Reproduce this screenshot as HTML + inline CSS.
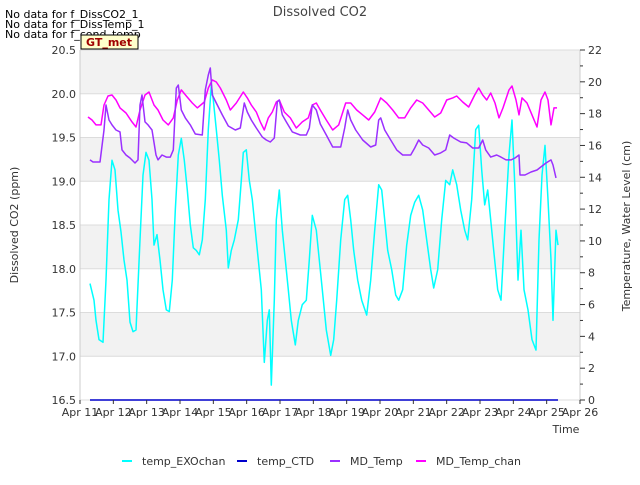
<!DOCTYPE html>
<html><head><meta charset="utf-8"><style>
body{margin:0;background:#fff;font-family:"Liberation Sans","DejaVu Sans",sans-serif;}
svg text{font-family:"DejaVu Sans","Liberation Sans",sans-serif;}
</style></head><body>
<svg id="chart" width="640" height="480" viewBox="0 0 640 480" xmlns="http://www.w3.org/2000/svg">
<rect width="640" height="480" fill="#fff"/>
<g id="bands"></g>
<g id="grid"></g>
<g id="series"></g>
<g id="axes"></g>
<text x="320" y="16" text-anchor="middle" font-size="13" fill="#444">Dissolved CO2</text>
<text x="5" y="18" font-size="11">No data for f_DissCO2_1</text>
<text x="5" y="28" font-size="11">No data for f_DissTemp_1</text>
<text x="5" y="38" font-size="11">No data for f_cond_temp</text>
<rect x="81" y="35" width="57" height="14" fill="#ffffcc" stroke="#000" stroke-width="1"/>
<text x="109" y="46" text-anchor="middle" font-size="11" font-weight="bold" fill="#a00000">GT_met</text>
<text transform="translate(18,225) rotate(-90)" text-anchor="middle" font-size="11" fill="#333">Dissolved CO2 (ppm)</text>
<text transform="translate(630,226) rotate(-90)" text-anchor="middle" font-size="11" fill="#333">Temperature, Water Level (cm)</text>
<text x="566" y="433" text-anchor="middle" font-size="11" fill="#333">Time</text>
<g id="legend"></g>
</svg>
<script>
const xTickLabels=["Apr 11","Apr 12","Apr 13","Apr 14","Apr 15","Apr 16","Apr 17","Apr 18","Apr 19","Apr 20","Apr 21","Apr 22","Apr 23","Apr 24","Apr 25","Apr 26"];
const leftTicks=[16.5,17.0,17.5,18.0,18.5,19.0,19.5,20.0,20.5];
const rightTicks=[0,2,4,6,8,10,12,14,16,18,20,22];
const exoT=[0.30,0.42,0.48,0.57,0.69,0.78,0.87,0.96,1.05,1.14,1.23,1.32,1.41,1.50,1.59,1.68,1.80,1.89,1.98,2.07,2.16,2.22,2.31,2.40,2.49,2.59,2.68,2.77,2.86,2.95,3.04,3.13,3.22,3.31,3.40,3.49,3.58,3.67,3.76,3.85,3.94,4.00,4.09,4.18,4.27,4.39,4.45,4.54,4.63,4.75,4.84,4.90,4.99,5.08,5.17,5.26,5.35,5.44,5.53,5.62,5.68,5.74,5.83,5.89,5.98,6.07,6.16,6.25,6.34,6.46,6.55,6.67,6.79,6.88,6.97,7.09,7.18,7.27,7.39,7.52,7.61,7.70,7.82,7.94,8.03,8.12,8.21,8.33,8.45,8.60,8.72,8.84,8.96,9.05,9.14,9.23,9.35,9.47,9.56,9.68,9.80,9.92,10.04,10.16,10.28,10.40,10.52,10.61,10.73,10.85,10.97,11.09,11.18,11.30,11.42,11.54,11.63,11.75,11.87,11.96,12.05,12.14,12.23,12.32,12.41,12.53,12.63,12.75,12.87,12.96,13.05,13.14,13.23,13.32,13.44,13.56,13.68,13.77,13.86,13.95,14.04,14.13,14.19,14.28,14.34];
const exoCO2=[17.83,17.64,17.41,17.19,17.16,17.87,18.79,19.24,19.13,18.67,18.42,18.10,17.87,17.39,17.28,17.30,18.33,19.07,19.33,19.24,18.79,18.27,18.39,18.10,17.76,17.53,17.51,17.87,18.67,19.30,19.49,19.24,18.90,18.50,18.24,18.21,18.16,18.33,18.79,19.59,20.10,19.93,19.59,19.24,18.84,18.44,18.01,18.21,18.33,18.56,19.01,19.33,19.36,19.01,18.79,18.44,18.10,17.76,16.93,17.41,17.53,16.67,17.64,18.56,18.90,18.44,18.10,17.76,17.41,17.13,17.41,17.59,17.64,18.10,18.61,18.44,18.10,17.76,17.30,17.01,17.19,17.64,18.33,18.79,18.84,18.56,18.21,17.87,17.64,17.47,17.87,18.44,18.96,18.90,18.56,18.21,17.99,17.70,17.64,17.76,18.27,18.61,18.76,18.84,18.67,18.33,17.99,17.78,17.99,18.56,19.01,18.96,19.13,18.96,18.67,18.44,18.33,18.79,19.59,19.64,19.13,18.73,18.90,18.56,18.21,17.76,17.64,18.50,19.30,19.70,18.90,17.87,18.44,17.76,17.53,17.19,17.07,18.33,19.07,19.41,18.79,18.10,17.41,18.44,18.27];
const mdT=[0.30,0.39,0.60,0.72,0.78,0.87,0.96,1.08,1.20,1.26,1.38,1.50,1.65,1.74,1.80,1.86,1.95,2.04,2.16,2.28,2.34,2.46,2.59,2.71,2.80,2.89,2.95,3.04,3.16,3.31,3.46,3.67,3.76,3.85,3.91,3.97,4.09,4.27,4.45,4.66,4.81,4.93,5.02,5.14,5.29,5.47,5.59,5.71,5.83,5.92,5.98,6.07,6.19,6.37,6.61,6.79,6.88,6.97,7.09,7.21,7.39,7.58,7.82,7.94,8.03,8.12,8.27,8.48,8.72,8.87,8.96,9.02,9.14,9.32,9.50,9.68,9.92,10.04,10.16,10.28,10.46,10.64,10.82,10.97,11.09,11.21,11.42,11.60,11.78,11.96,12.08,12.17,12.32,12.50,12.63,12.78,12.93,13.05,13.17,13.20,13.35,13.53,13.71,13.83,13.98,14.13,14.19,14.28];
const mdTemp=[15.09,14.96,14.96,16.97,18.54,17.60,17.29,16.97,16.85,15.72,15.40,15.21,14.90,15.09,18.54,19.17,17.48,17.29,16.97,15.40,15.09,15.40,15.27,15.27,15.72,19.61,19.80,18.23,17.73,17.29,16.72,16.66,19.49,20.43,20.87,19.17,18.67,17.92,17.22,16.97,17.10,18.67,18.10,17.60,17.10,16.53,16.34,16.22,16.47,18.73,18.86,17.92,17.48,16.85,16.66,16.66,17.10,18.54,18.23,17.35,16.66,15.90,15.90,17.10,18.23,17.60,16.97,16.34,15.90,16.03,17.60,17.73,16.97,16.34,15.72,15.40,15.40,15.84,16.34,16.03,15.84,15.40,15.53,15.72,16.66,16.47,16.22,16.16,15.84,15.84,16.34,15.72,15.27,15.40,15.27,15.09,15.09,15.21,15.40,14.14,14.14,14.33,14.46,14.65,14.90,15.09,14.77,13.96];
const chanT=[0.24,0.36,0.48,0.63,0.72,0.84,0.96,1.08,1.20,1.38,1.56,1.68,1.80,1.95,2.07,2.22,2.34,2.49,2.65,2.80,2.92,3.04,3.19,3.37,3.52,3.73,3.85,3.97,4.09,4.21,4.39,4.51,4.69,4.90,5.02,5.14,5.29,5.41,5.53,5.65,5.77,5.89,5.98,6.13,6.31,6.49,6.67,6.85,6.97,7.09,7.21,7.39,7.58,7.76,7.97,8.12,8.30,8.48,8.66,8.84,9.02,9.20,9.38,9.56,9.74,9.92,10.10,10.28,10.46,10.64,10.82,11.00,11.18,11.30,11.48,11.66,11.84,11.96,12.08,12.20,12.32,12.45,12.57,12.69,12.87,12.96,13.08,13.17,13.26,13.41,13.56,13.71,13.83,13.95,14.04,14.13,14.22,14.31];
const chanTemp=[17.79,17.60,17.29,17.29,18.54,19.11,19.17,18.86,18.36,18.04,17.48,17.16,18.23,19.17,19.36,18.54,18.23,17.60,17.29,17.73,18.86,19.49,19.11,18.67,18.36,18.73,19.61,20.12,19.99,19.61,18.86,18.23,18.67,19.36,18.99,18.54,18.10,17.48,16.97,17.73,18.10,18.73,18.86,18.10,17.73,17.10,17.48,17.73,18.54,18.67,18.23,17.60,16.97,17.29,18.67,18.67,18.23,17.92,17.60,18.10,18.99,18.67,18.23,17.73,17.73,18.36,18.86,18.67,18.23,17.79,18.04,18.86,18.99,19.11,18.73,18.42,19.17,19.61,19.17,18.86,19.30,18.67,17.73,18.36,19.49,19.74,18.86,17.92,18.99,18.67,17.92,17.16,18.86,19.36,18.86,17.29,18.36,18.36];
const ctdT=[0.30,14.34];
const ctdVal=[0,0];

const NS="http://www.w3.org/2000/svg";
const X0=80,X1=580,Y0=50,Y1=400;
const xs=d=>X0+(X1-X0)*d/15;
const yL=v=>Y1-(v-16.5)/4*(Y1-Y0);
const yR=v=>Y1-v/22*(Y1-Y0);
function mk(tag,attrs,parent){const e=document.createElementNS(NS,tag);for(const k in attrs)e.setAttribute(k,attrs[k]);parent.appendChild(e);return e;}
const bands=document.getElementById('bands'),grid=document.getElementById('grid'),axes=document.getElementById('axes'),ser=document.getElementById('series'),leg=document.getElementById('legend');
mk('rect',{x:X0,y:Y0,width:X1-X0,height:Y1-Y0,fill:'#fff'},bands);
for(let i=0;i<leftTicks.length-1;i++){
  if((leftTicks.length-2-i)%2===0){
    const r=mk('rect',{x:X0,y:yL(leftTicks[i+1]),width:X1-X0,height:yL(leftTicks[i])-yL(leftTicks[i+1]),fill:'#f2f2f2'},bands);
    
    
  }
}
leftTicks.forEach(v=>{
  const g=mk('line',{x1:X0,x2:X1,y1:yL(v),y2:yL(v),stroke:'#dcdcdc','stroke-width':1},grid);
  
  
  const t=mk('text',{x:X0-4,y:yL(v)+4,'text-anchor':'end','font-size':11,fill:'#333'},axes);
  t.textContent=v.toFixed(1);
  
  
});
mk('line',{x1:X0,x2:X0,y1:Y0,y2:Y1,stroke:'#ccc'},axes);
mk('line',{x1:X1,x2:X1,y1:Y0,y2:Y1,stroke:'#ccc'},axes);
for(let v=0;v<=22;v++){
  const major=v%2===0;
  mk('line',{x1:X1,x2:X1+(major?5:3),y1:yR(v),y2:yR(v),stroke:'#333'},axes);
}
rightTicks.forEach(v=>{
  const t=mk('text',{x:X1+8,y:yR(v)+4,'font-size':11,fill:'#333'},axes);
  t.textContent=v;
  
  
});
xTickLabels.forEach((s,i)=>{
  mk('line',{x1:xs(i),x2:xs(i),y1:Y1,y2:Y1+4,stroke:'#333'},axes);
  const t=mk('text',{x:xs(i),y:Y1+16,'text-anchor':'middle','font-size':11,fill:'#333'},axes);
  t.textContent=s;
  
  
});
function line(ts,vs,yf,color,name){
  const p=mk('polyline',{points:ts.map((t,i)=>xs(t).toFixed(1)+','+yf(vs[i]).toFixed(1)).join(' '),fill:'none',stroke:color,'stroke-width':1.5,'stroke-linejoin':'round'},ser);
  
  
}
line(ctdT,ctdVal,yR,'#0000cc','temp-ctd-line');
line(exoT,exoCO2,yL,'#00ffff','temp-exochan-line');
line(chanT,chanTemp,yR,'#ff00ff','md-temp-chan-line');
line(mdT,mdTemp,yR,'#9b30ff','md-temp-line');
const legItems=[["temp_EXOchan","#00ffff",122],["temp_CTD","#0000cc",237],["MD_Temp","#9b30ff",330],["MD_Temp_chan","#ff00ff",416]];
legItems.forEach(([n,c,x])=>{
  const l=mk('line',{x1:x,x2:x+10,y1:461,y2:461,stroke:c,'stroke-width':2},leg);
  
  
  const t=mk('text',{x:x+20,y:465,'font-size':11,fill:'#333'},leg);
  t.textContent=n;
  
  
});
</script>
</body></html>
